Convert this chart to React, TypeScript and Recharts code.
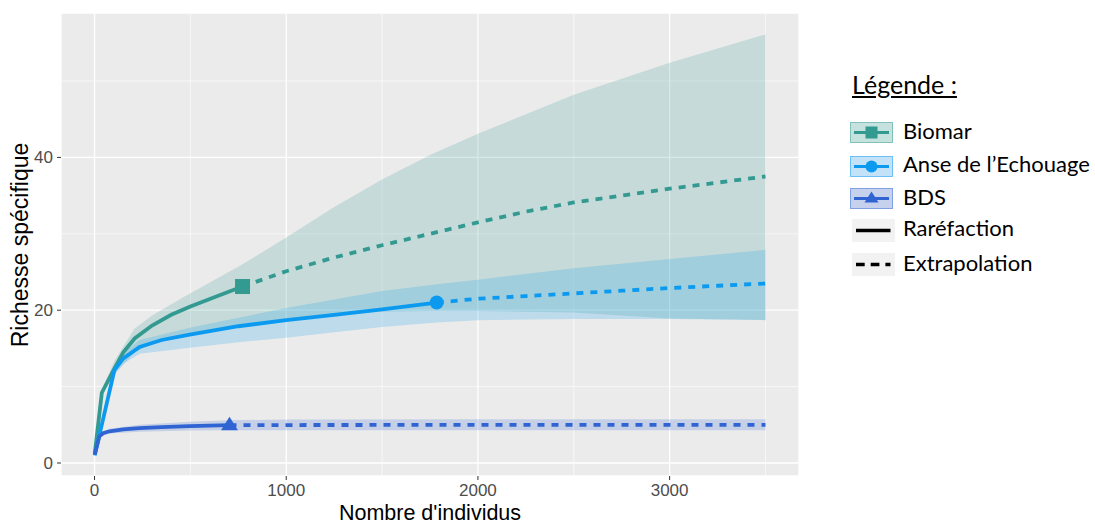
import React from 'react';
import { ComposedChart, XAxis, YAxis, CartesianGrid, Area, Line, Scatter } from 'recharts';

// ---------- data ----------
const xTicks = [0, 1000, 2000, 3000];
const xMinor = [500, 1500, 2500, 3500];
const yTicks = [0, 20, 40];
const yMinor = [10, 30, 50];

// Biomar
const bioRareN = [1, 38, 104, 150, 209, 300, 400, 500, 635, 772];
const bioRareS = [1.2, 9.2, 12.4, 14.5, 16.3, 18.0, 19.4, 20.5, 21.8, 23.1];
const bioExtN = [772, 1000, 1250, 1500, 1750, 2000, 2250, 2500, 2750, 3000, 3250, 3500];
const bioExtS = [23.1, 25.1, 26.9, 28.5, 30.0, 31.5, 32.9, 34.1, 35.0, 35.9, 36.7, 37.5];
const bioBandN = [1, 38, 104, 209, 300, 470, 772, 1000, 1250, 1500, 1750, 2000, 2500, 3000, 3500];
const bioLow = [1.2, 8.8, 11.6, 14.5, 15.6, 16.5, 17.9, 18.7, 19.3, 19.8, 19.9, 19.9, 19.7, 18.9, 18.7];
const bioHigh = [1.2, 9.6, 13.4, 17.6, 19.3, 21.8, 26.0, 29.5, 33.5, 37.1, 40.3, 43.1, 48.2, 52.4, 56.1];

// Anse de l'Echouage
const anseRareN = [1, 104, 150, 235, 350, 496, 750, 1000, 1250, 1500, 1785];
const anseRareS = [1.0, 12.2, 13.7, 15.2, 16.1, 16.8, 17.9, 18.7, 19.4, 20.1, 21.0];
const anseExtN = [1785, 2000, 2250, 2500, 2750, 3000, 3250, 3500];
const anseExtS = [21.0, 21.5, 21.85, 22.2, 22.55, 22.9, 23.2, 23.5];
const anseBandN = [1, 104, 150, 235, 496, 750, 1000, 1250, 1500, 1785, 2000, 2500, 3000, 3500];
const anseLow = [1.0, 11.6, 13.0, 14.3, 15.1, 15.8, 16.4, 17.1, 17.8, 18.4, 18.7, 18.85, 18.85, 18.7];
const anseHigh = [1.0, 12.8, 14.4, 16.1, 17.7, 19.0, 20.3, 21.4, 22.5, 23.4, 24.0, 25.5, 26.7, 27.9];

// BDS
const bdsRareN = [1, 25, 45, 78, 150, 235, 350, 496, 704];
const bdsRareS = [1.1, 3.5, 3.9, 4.15, 4.4, 4.57, 4.7, 4.83, 4.95];
const bdsExtN = [704, 1000, 1500, 2000, 2500, 3000, 3500];
const bdsExtS = [4.95, 4.97, 4.98, 4.98, 4.98, 4.98, 4.98];
const bdsBandN = [1, 25, 45, 78, 235, 496, 704, 1000, 2000, 3500];
const bdsLow = [1.1, 3.3, 3.65, 3.85, 4.1, 4.25, 4.3, 4.3, 4.3, 4.3];
const bdsHigh = [1.1, 3.7, 4.15, 4.5, 5.0, 5.4, 5.6, 5.7, 5.72, 5.72];

// ---------- styles ----------
const TEAL = '#339A92';
const BLUE = '#0B9AF0';
const ROYAL = '#2F64D2';
const AX_FONT = "'Liberation Sans', Arial, sans-serif";
const LEG_FONT = "Lato, 'Open Sans', sans-serif";

const pts = (ns: number[], ss: number[]) => ns.map((n, i) => ({ n, s: ss[i] }));
const band = (ns: number[], lo: number[], hi: number[]) => ns.map((n, i) => ({ n, range: [lo[i], hi[i]] }));
const last = (ns: number[], ss: number[]) => [{ n: ns[ns.length - 1], s: ss[ss.length - 1] }];

const Square = (p: any) => <rect x={p.cx - 7.5} y={p.cy - 7.5} width={15} height={15} fill={TEAL} />;
const Circ = (p: any) => <circle cx={p.cx} cy={p.cy} r={7} fill={BLUE} />;
const Tri = (p: any) => (
  <polygon points={`${p.cx},${p.cy - 8.5} ${p.cx - 8.5},${p.cy + 5} ${p.cx + 8.5},${p.cy + 5}`} fill={ROYAL} />
);

const LegendKey = ({ kind }: { kind: string }) => {
  const w = 43, h = 21;
  if (kind === 'rare' || kind === 'extra') {
    return (
      <svg width={w} height={23} style={{ display: 'block' }}>
        <rect x={0} y={0} width={w} height={23} fill="#F2F2F2" />
        <line x1={4} x2={38.5} y1={11.5} y2={11.5} stroke="#000" strokeWidth={3.5}
          strokeDasharray={kind === 'extra' ? '8.7 6' : undefined} />
      </svg>
    );
  }
  const col = kind === 'bio' ? TEAL : kind === 'anse' ? BLUE : ROYAL;
  const fill = kind === 'bio' ? '#C5E2DE' : kind === 'anse' ? '#C3E2F8' : '#C6D1EE';
  const cx = w / 2, cy = h / 2;
  return (
    <svg width={w} height={h} style={{ display: 'block' }}>
      <rect x={0.5} y={0.5} width={w - 1} height={h - 1} fill={fill} stroke={col} strokeOpacity={0.55} />
      <line x1={4} x2={w - 4} y1={cy} y2={cy} stroke={col} strokeWidth={3} />
      {kind === 'bio' && <rect x={cx - 6} y={cy - 6} width={12} height={12} fill={col} />}
      {kind === 'anse' && <circle cx={cx} cy={cy} r={6} fill={col} />}
      {kind === 'bds' && <polygon points={`${cx},${cy - 7} ${cx - 7},${cy + 4} ${cx + 7},${cy + 4}`} fill={col} />}
    </svg>
  );
};

const legendRows = [
  { kind: 'bio', label: 'Biomar', top: 121.5, textTop: 119.5 },
  { kind: 'anse', label: 'Anse de l\u2019Echouage', top: 156, textTop: 153.2 },
  { kind: 'bds', label: 'BDS', top: 187.5, textTop: 186.2 },
  { kind: 'rare', label: 'Raréfaction', top: 219, textTop: 217.2 },
  { kind: 'extra', label: 'Extrapolation', top: 252.5, textTop: 251.5 },
];

export default function App() {
  return (
    <div style={{ position: 'fixed', left: 0, top: 0, width: 1095, height: 524, background: '#fff' }}>
      <ComposedChart width={1095} height={524} margin={{ top: 13, right: 296, bottom: 0, left: 0 }}>
        <CartesianGrid fill="#EBEBEB" stroke="#FFFFFF" strokeWidth={1.3} />
        <CartesianGrid verticalValues={xMinor} horizontalValues={yMinor} stroke="#FFFFFF" strokeWidth={0.6} />
        <XAxis dataKey="n" type="number" domain={[-175, 3675]} ticks={xTicks} allowDataOverflow
          height={48} tickSize={4} tickMargin={4} axisLine={false}
          tickLine={{ stroke: '#333333' }}
          tick={{ fill: '#4D4D4D', fontSize: 17, fontFamily: AX_FONT }} />
        <YAxis type="number" domain={[-1.7, 58.9]} ticks={yTicks} allowDataOverflow
          width={61} tickSize={4} tickMargin={4} axisLine={false}
          tickLine={{ stroke: '#333333' }}
          tick={{ fill: '#4D4D4D', fontSize: 17, fontFamily: AX_FONT }} />

        <Area data={band(bioBandN, bioLow, bioHigh)} dataKey="range" type="linear" fill={TEAL} fillOpacity={0.2}
          stroke="none" activeDot={false} isAnimationActive={false} />
        <Area data={band(anseBandN, anseLow, anseHigh)} dataKey="range" type="linear" fill={BLUE} fillOpacity={0.2}
          stroke="none" activeDot={false} isAnimationActive={false} />
        <Area data={band(bdsBandN, bdsLow, bdsHigh)} dataKey="range" type="linear" fill={ROYAL} fillOpacity={0.2}
          stroke="none" activeDot={false} isAnimationActive={false} />

        <Line data={pts(bioRareN, bioRareS)} dataKey="s" type="linear" stroke={TEAL} strokeWidth={3.8}
          dot={false} activeDot={false} isAnimationActive={false} />
        <Line data={pts(bioExtN, bioExtS)} dataKey="s" type="linear" stroke={TEAL} strokeWidth={3.8}
          strokeDasharray="7 7" dot={false} activeDot={false} isAnimationActive={false} />
        <Line data={pts(anseRareN, anseRareS)} dataKey="s" type="linear" stroke={BLUE} strokeWidth={3.8}
          dot={false} activeDot={false} isAnimationActive={false} />
        <Line data={pts(anseExtN, anseExtS)} dataKey="s" type="linear" stroke={BLUE} strokeWidth={3.8}
          strokeDasharray="7 7" dot={false} activeDot={false} isAnimationActive={false} />
        <Line data={pts(bdsRareN, bdsRareS)} dataKey="s" type="linear" stroke={ROYAL} strokeWidth={3.8}
          dot={false} activeDot={false} isAnimationActive={false} />
        <Line data={pts(bdsExtN, bdsExtS)} dataKey="s" type="linear" stroke={ROYAL} strokeWidth={3.8}
          strokeDasharray="7 7" dot={false} activeDot={false} isAnimationActive={false} />

        <Scatter data={last(bioRareN, bioRareS)} dataKey="s" shape={Square} isAnimationActive={false} />
        <Scatter data={last(anseRareN, anseRareS)} dataKey="s" shape={Circ} isAnimationActive={false} />
        <Scatter data={last(bdsRareN, bdsRareS)} dataKey="s" shape={Tri} isAnimationActive={false} />
      </ComposedChart>

      <svg width={1095} height={524} style={{ position: 'absolute', left: 0, top: 0, pointerEvents: 'none' }}>
        <text x={430} y={519.8} textAnchor="middle" fontSize={21.5} fontFamily={AX_FONT} fill="#000">Nombre d'individus</text>
        <text x={28} y={245} transform="rotate(-90 28 245)" textAnchor="middle" fontSize={23} fontFamily={AX_FONT} fill="#000">
          Richesse spécifique
        </text>
      </svg>

      <div style={{ position: 'absolute', left: 852, top: 72.1, fontFamily: LEG_FONT, fontSize: 25, lineHeight: '25px',
        textDecoration: 'underline', color: '#000', whiteSpace: 'nowrap' }}>Légende :</div>
      {legendRows.map((r) => (
        <React.Fragment key={r.kind}>
          <div style={{ position: 'absolute', left: r.kind === 'rare' || r.kind === 'extra' ? 852 : 850, top: r.top }}>
            <LegendKey kind={r.kind} />
          </div>
          <div style={{ position: 'absolute', left: 903, top: r.textTop, fontFamily: LEG_FONT, fontSize: 22,
            lineHeight: '22px', color: '#000', whiteSpace: 'nowrap' }}>{r.label}</div>
        </React.Fragment>
      ))}
    </div>
  );
}
